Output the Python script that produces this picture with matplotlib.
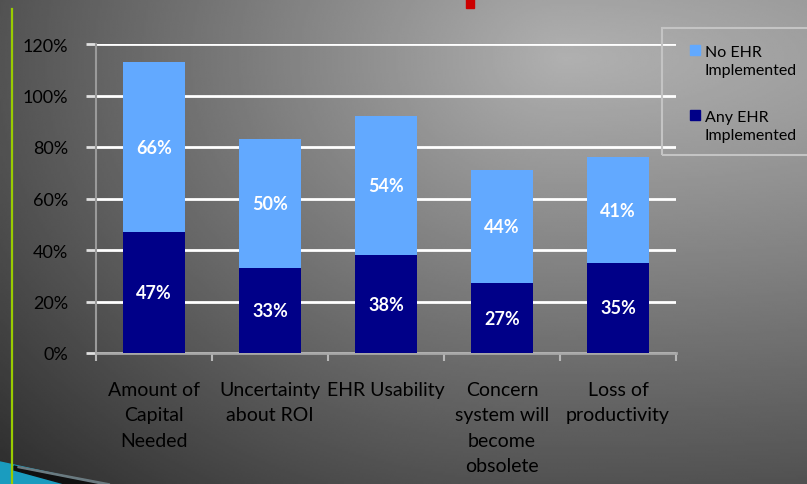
import numpy as np
import matplotlib
matplotlib.use("Agg")
import matplotlib.pyplot as plt
import matplotlib.patches as patches

plt.rcParams["font.family"] = ["Lato", "DejaVu Sans"]

# data (percent)
categories = [
    "Amount of\nCapital\nNeeded",
    "Uncertainty\nabout ROI",
    "EHR Usability",
    "Concern\nsystem will\nbecome\nobsolete",
    "Loss of\nproductivity",
]
any_ehr = [47, 33, 38, 27, 35]
no_ehr = [66, 50, 54, 44, 41]
y_ticks = [0, 20, 40, 60, 80, 100, 120]

light_blue = "#62a9ff"
dark_blue = "#000088"

W, H = 807, 485
fig = plt.figure(figsize=(W / 100, H / 100), dpi=100)

# grey slide background, bright near the top middle, dark to the lower left
bg = fig.add_axes([0, 0, 1, 1], zorder=-10)
xx, yy = np.meshgrid(np.linspace(0, 1, 400), np.linspace(0, 1, 240))
dx = xx - 0.7
dx = np.where(dx > 0, dx / 2.5, dx)
dy = (yy - 0.12) / 1.25
d = np.sqrt(dx**2 + dy**2)
v = np.clip(0.69 - 0.52 * d, 0, 1)
bg.imshow(v, cmap="gray", vmin=0, vmax=1, extent=[0, 1, 1, 0], aspect="auto",
          interpolation="bilinear")
bg.set_xlim(0, 1)
bg.set_ylim(1, 0)
bg.axis("off")

# slide decorations
def px(x, y):
    return (x / W, 1 - y / H)

fig.add_artist(plt.Line2D([12 / W, 12 / W], [0, 1 - 10 / H], color="#99cc00",
                          lw=1.6, transform=fig.transFigure))
fig.add_artist(patches.Rectangle(px(466, 9), 8 / W, 9 / H, color="#cc0000",
                                 transform=fig.transFigure))
fig.add_artist(patches.Polygon([px(0, 463), px(60, 476), px(95, 485), px(0, 485)],
                               closed=True, color="#1a9cbf", transform=fig.transFigure))
fig.add_artist(patches.Polygon([px(14, 467), px(100, 485), px(65, 485), px(14, 471)],
                               closed=True, color="#101010", transform=fig.transFigure))
fig.add_artist(patches.Polygon([px(18, 467.5), px(110, 485), px(102, 485), px(18, 468.5)],
                               closed=True, color="#6a7a80", transform=fig.transFigure))

# chart
ax = fig.add_axes([96 / W, 1 - 354 / H, (676 - 96) / W, (354 - 45) / H])
ax.set_facecolor("none")
x = np.arange(len(categories))
width = 0.535
b1 = ax.bar(x, any_ehr, width, color=dark_blue, zorder=3)
b2 = ax.bar(x, no_ehr, width, bottom=any_ehr, color=light_blue, zorder=3)
for bars in (b1, b2):
    ax.bar_label(bars, labels=[f"{int(b.get_height())}%" for b in bars],
                 label_type="center", color="white", fontsize=13, fontweight="bold")

ax.set_xlim(-0.5, len(categories) - 0.5)
ax.set_ylim(0, 120)
ax.set_yticks(y_ticks)
ax.set_yticklabels([f"{t}%" for t in y_ticks], fontsize=13, color="black")
ax.set_xticks(x)
ax.set_xticklabels(categories, fontsize=14, color="black", linespacing=1.6,
                   va="top")
ax.set_xticks(np.arange(-0.5, len(categories)), minor=True)
ax.tick_params(axis="x", which="major", length=0, pad=20)
ax.tick_params(axis="x", which="minor", length=6, width=1.5, color="#b8b8b8")
ax.tick_params(axis="y", length=7, width=2, color="#e0e0e0", pad=13)

ax.yaxis.grid(True, color="white", lw=2)
ax.set_axisbelow(True)
for s in ("top", "right"):
    ax.spines[s].set_visible(False)
ax.spines["left"].set_color("#9a9a9a")
ax.spines["left"].set_linewidth(1.5)
ax.spines["bottom"].set_color("#a8a8a8")
ax.spines["bottom"].set_linewidth(2)

# legend box at the right
fig.add_artist(patches.Rectangle(px(662, 156), 160 / W, 127 / H, fill=False,
                                 edgecolor="#c4c4c4", lw=1.5, transform=fig.transFigure))
legend_items = [("No EHR\nImplemented", light_blue, 51), ("Any EHR\nImplemented", dark_blue, 116)]
for label, color, yc in legend_items:
    fig.text(705 / W, 1 - (yc - 5) / H, label, fontsize=11.5, color="black",
             va="top", ha="left", linespacing=1.35)
    fig.add_artist(patches.Rectangle(px(690, yc + 5), 10 / W, 10 / H, color=color,
                                     transform=fig.transFigure))

fig.savefig("out.png", dpi=100)
